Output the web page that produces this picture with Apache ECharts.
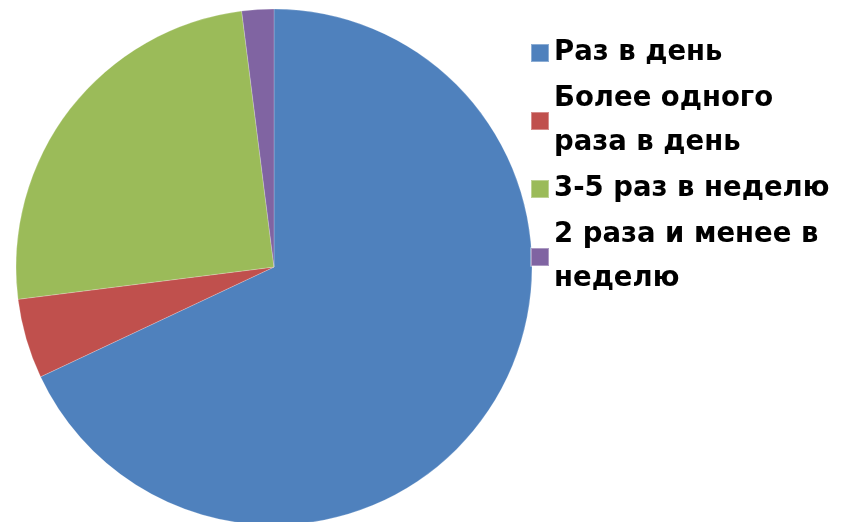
<!DOCTYPE html>
<html>
<head>
<meta charset="utf-8">
<script src="https://cdn.jsdelivr.net/npm/echarts@6/dist/echarts.min.js"></script>
<style>
  html, body { margin: 0; padding: 0; background: #ffffff; }
  #chart { width: 841px; height: 522px; }
</style>
</head>
<body>
<div id="chart"></div>
<script>
// Meal frequency shares (percent)
const categories = ['Раз в день', 'Более одного раза в день', '3-5 раз в неделю', '2 раза и менее в неделю'];
const legendLines = ['Раз в день', 'Более одного\nраза в день', '3-5 раз в неделю', '2 раза и менее в\nнеделю'];
const values = [68, 5, 25, 2];
const colors = ['#4F81BD', '#C0504D', '#9BBB59', '#8064A2'];

const chart = echarts.init(document.getElementById('chart'), null, { renderer: 'canvas' });

chart.setOption({
  animation: false,
  color: colors,
  legend: {
    orient: 'vertical',
    left: 530,
    top: 31,
    padding: 0,
    itemWidth: 18,
    itemHeight: 18,
    itemGap: 2,
    icon: 'rect',
    formatter: function (name) {
      return legendLines[categories.indexOf(name)];
    },
    textStyle: {
      fontFamily: 'DejaVu Sans',
      fontWeight: 'bold',
      fontSize: 27.5,
      lineHeight: 44,
      color: '#000000'
    },
    data: categories
  },
  series: [{
    type: 'pie',
    center: [274, 267],
    radius: 258,
    startAngle: 90,
    clockwise: true,
    label: { show: false },
    labelLine: { show: false },
    itemStyle: { borderColor: 'rgba(255,255,255,0.35)', borderWidth: 0.6 },
    emphasis: { disabled: true },
    data: categories.map((c, i) => ({ name: c, value: values[i] }))
  }]
});
</script>
</body>
</html>
